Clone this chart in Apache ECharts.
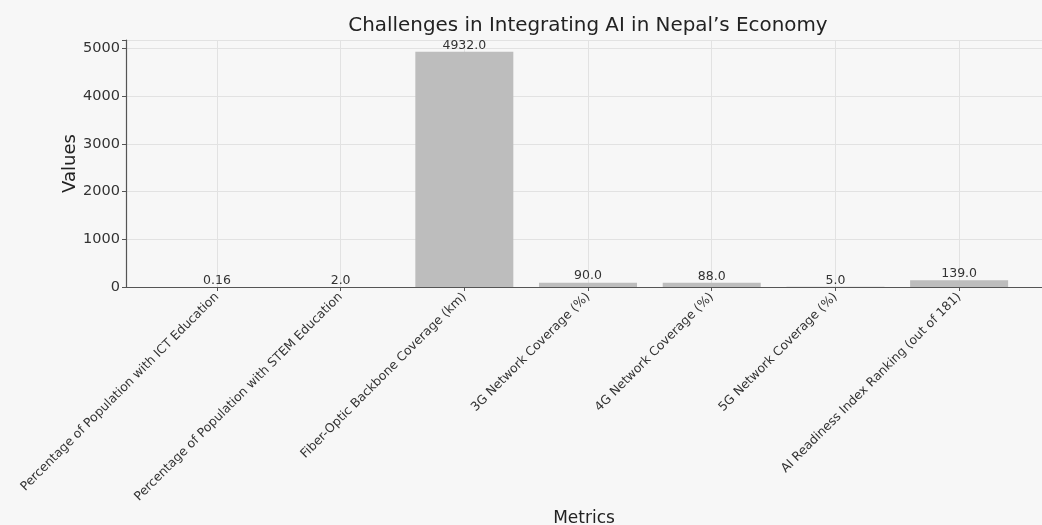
<!DOCTYPE html>
<html>
<head>
<meta charset="utf-8">
<script src="https://cdn.jsdelivr.net/npm/echarts@6/dist/echarts.min.js"></script>
<style>
html,body{margin:0;padding:0;background:#f7f7f7;}
#chart{width:1042px;height:525px;}
</style>
</head>
<body>
<div id="chart"></div>
<script>
const categories = [
  "Percentage of Population with ICT Education",
  "Percentage of Population with STEM Education",
  "Fiber-Optic Backbone Coverage (km)",
  "3G Network Coverage (%)",
  "4G Network Coverage (%)",
  "5G Network Coverage (%)",
  "AI Readiness Index Ranking (out of 181)"
];
const values = [0.16, 2.0, 4932.0, 90.0, 88.0, 5.0, 139.0];
const valueLabels = ["0.16", "2.0", "4932.0", "90.0", "88.0", "5.0", "139.0"];
const yTicks = [0, 1000, 2000, 3000, 4000, 5000];

const idx = categories.map((c, i) => i);
const font = "DejaVu Sans";
const chart = echarts.init(document.getElementById('chart'), null, {renderer: 'canvas'});
chart.setOption({
  backgroundColor: '#f7f7f7',
  animation: false,
  title: {
    text: "Challenges in Integrating AI in Nepal\u2019s Economy",
    left: 583, top: 11, textAlign: 'center',
    textStyle: {fontFamily: font, fontSize: 19.9, fontWeight: 'normal', color: '#222'}
  },
  grid: {left: 126, top: 40, right: 0, bottom: 238, outerBoundsMode: 'none', containLabel: false},
  xAxis: {
    type: 'value',
    min: -0.735,
    max: 6.67,
    name: 'Metrics',
    nameLocation: 'middle',
    nameGap: 223,
    nameMoveOverlap: false,
    nameTextStyle: {fontFamily: font, fontSize: 17, color: '#222'},
    axisLine: {show: true, onZero: false, lineStyle: {color: '#555', width: 1.2}},
    axisTick: {show: true, customValues: idx, length: 4, lineStyle: {color: '#555'}},
    axisLabel: {
      customValues: idx,
      rotate: 45,
      formatter: v => categories[Math.round(v)],
      fontFamily: font, fontSize: 12.4, color: '#333', margin: 8
    },
    splitLine: {show: true, lineStyle: {color: '#e2e2e2', width: 1}}
  },
  yAxis: {
    type: 'value',
    min: 0,
    max: 5178.6,
    interval: 1000,
    name: 'Values',
    nameLocation: 'middle',
    nameGap: 47,
    nameMoveOverlap: false,
    nameRotate: 90,
    nameTextStyle: {fontFamily: font, fontSize: 18, color: '#222'},
    axisLine: {show: true, onZero: false, lineStyle: {color: '#555', width: 1.2}},
    axisTick: {show: true, length: 4, lineStyle: {color: '#555'}},
    axisLabel: {fontFamily: font, fontSize: 14.5, color: '#333', margin: 6,
      formatter: v => yTicks.includes(v) ? String(v) : ''},
    splitLine: {show: true, lineStyle: {color: '#e2e2e2', width: 1}}
  },
  series: [{
    type: 'bar',
    data: values.map((v, i) => [i, v]),
    barWidth: 98,
    itemStyle: {color: '#bdbdbd'},
    label: {
      show: true, position: 'top', distance: 0,
      formatter: p => valueLabels[p.dataIndex],
      fontFamily: font, fontSize: 12.5, color: '#333'
    }
  }]
});
</script>
</body>
</html>
